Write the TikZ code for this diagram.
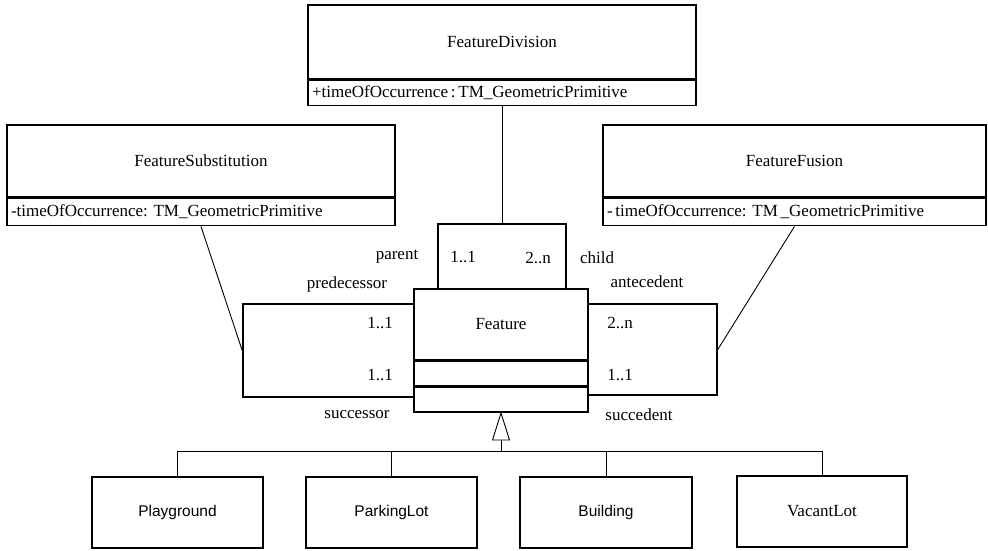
\documentclass[tikz,border=0pt]{standalone}
\usepackage{fontspec}
\setmainfont{Liberation Serif}
\setsansfont{Liberation Sans}
\frenchspacing
\begin{document}
\begin{tikzpicture}[x=1pt,y=-1pt,
  txt/.style={inner sep=0pt, font=\fontsize{17}{20}\selectfont},
  cls/.style={txt, draw, line width=1.6pt},
  attr/.style={cls, align=left, inner xsep=4pt, inner ysep=0pt},
  loopbox/.style={draw, line width=1.6pt, inner sep=0pt},
  sub/.style={cls, font=\sffamily\fontsize{15.5}{18}\selectfont},
  conn/.style={draw, line width=0.9pt},
  role/.style={txt}]
\useasboundingbox (0,0) rectangle (988,550);

% event classes
\node[cls, minimum width=388pt, minimum height=74pt] (fdT) at (502,42) {FeatureDivision};
\node[attr, text width=380pt, minimum height=25pt, anchor=north] (fdA) at (fdT.south)
  {+timeOfOccurrence\,:\,TM\_GeometricPrimitive};

\node[cls, minimum width=388pt, minimum height=72pt] (fsT) at (201,161) {FeatureSubstitution};
\node[attr, text width=380pt, minimum height=27pt, anchor=north] (fsA) at (fsT.south)
  {-timeOfOccurrence: TM\_GeometricPrimitive};

\node[cls, minimum width=383pt, minimum height=72pt] (ffT) at (794.5,161) {FeatureFusion};
\node[attr, text width=375pt, minimum height=27pt, anchor=north] (ffA) at (ffT.south)
  {-\,timeOfOccurrence: TM\,\_GeometricPrimitive};

% association loops around Feature
\node[loopbox, minimum width=128pt, minimum height=65pt] (divloop) at (502,256.5) {};
\node[loopbox, minimum width=171pt, minimum height=93pt] (leftloop) at (328.5,350.5) {};
\node[loopbox, minimum width=129pt, minimum height=91pt] (rightloop) at (652.5,349.5) {};

% Feature class with empty compartments
\node[cls, fill=white, minimum width=174pt, minimum height=71pt] (featT) at (501,324.5) {Feature};
\node[cls, fill=white, minimum width=174pt, minimum height=24pt, anchor=north] (featA) at (featT.south) {};
\node[cls, fill=white, minimum width=174pt, minimum height=25pt, anchor=north] (featO) at (featA.south) {};

% multiplicities and roles
\node[role] (parent) at (397,257) {parent};
\node[role] (m1) at (463,257) {1..1};
\node[role] (m2) at (538,258) {2..n};
\node[role] (child) at (597,258) {child};
\node[role] (pred) at (347,284) {predecessor};
\node[role] (ante) at (647,282) {antecedent};
\node[role] (m3) at (380,323) {1..1};
\node[role] (m4) at (380,375) {1..1};
\node[role] (m5) at (620,323) {2..n};
\node[role] (m6) at (620,375) {1..1};
\node[role] (succ) at (357,415) {successor};
\node[role] (sced) at (639,415) {succedent};

% association class links
\draw[conn] (fdA.south) -- (divloop.north);
\draw[conn] (fsA.south) -- (leftloop.west);
\draw[conn] (ffA.south) -- (rightloop.east);

% subclasses
\node[sub, minimum width=171pt, minimum height=71pt] (pg) at (177.5,512.5) {Playground};
\node[sub, minimum width=171pt, minimum height=71pt] (pl) at (391.5,512.5) {ParkingLot};
\node[sub, minimum width=172pt, minimum height=71pt] (bd) at (606,512.5) {Building};
\node[cls, minimum width=170pt, minimum height=71pt] (vl) at (822,511.5) {VacantLot};

% generalization
\draw[conn, fill=white] (featO.south) -- ++(-8.5,27) -- ++(17,0) -- cycle;
\path (featO.south) ++(0,27) coordinate (gbase);
\draw[conn] (gbase) -- ++(0,11) coordinate (bus);
\draw[conn] (pg.north) -- (pg.north |- bus) -- (vl.north |- bus) -- (vl.north);
\draw[conn] (pl.north) -- (pl.north |- bus);
\draw[conn] (bd.north) -- (bd.north |- bus);
\end{tikzpicture}
\end{document}
